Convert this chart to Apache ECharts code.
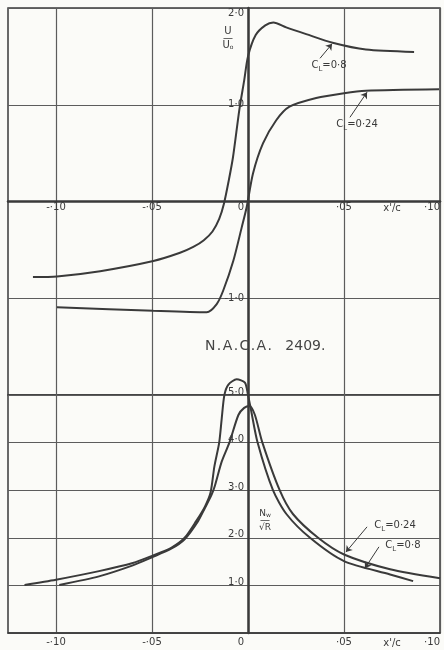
<!DOCTYPE html>
<html>
<head>
<meta charset="utf-8">
<title>N.A.C.A. 2409</title>
<script src="https://cdn.jsdelivr.net/npm/echarts@6/dist/echarts.min.js"></script>
<style>
  html, body { margin: 0; padding: 0; background: #fbfbf8; }
  #chart { width: 444px; height: 650px; }
</style>
</head>
<body>
<div id="chart"></div>
<script>
  // x'/c grid lines and their labels
  const xTicks = [-0.10, -0.05, 0, 0.05, 0.10];
  const xTickLabels = ['-·10', '-·05', '{z|0}', '·05', '·10'];

  // upper panel: U/U0
  const uTickLabels = { '2': '{t|2·0}', '1': '1·0', '-1': '-1·0' };
  const uCL08 = [
    [-0.112, -0.78], [-0.0995, -0.774], [-0.077, -0.72], [-0.0493, -0.615],
    [-0.0354, -0.53], [-0.0285, -0.47], [-0.023, -0.40], [-0.0185, -0.31],
    [-0.015, -0.18], [-0.0125, -0.02], [-0.010, 0.22], [-0.0078, 0.46],
    [-0.0045, 0.95], [-0.002, 1.25], [0, 1.5], [0.004, 1.72],
    [0.009, 1.82], [0.0132, 1.85], [0.0199, 1.80], [0.0303, 1.73],
    [0.0441, 1.64], [0.0614, 1.57], [0.0865, 1.545]
  ];
  const uCL024 = [
    [-0.0995, -1.094], [-0.0493, -1.13], [-0.0215, -1.145], [-0.0163, -1.06],
    [-0.0129, -0.92], [-0.0076, -0.61], [-0.0033, -0.27], [-0.0007, -0.06],
    [0.0026, 0.29], [0.0078, 0.60], [0.0147, 0.84], [0.0216, 0.98],
    [0.0355, 1.07], [0.05, 1.12], [0.0614, 1.145], [0.0995, 1.16]
  ];

  // lower panel: Nw/sqrt(R)
  const nTickLabels = { '1': '1·0', '2': '2·0', '3': '3·0', '4': '4·0', '5': '5·0' };
  const nCL08 = [
    [-0.1164, 1.01], [-0.10, 1.12], [-0.0776, 1.30], [-0.06, 1.47],
    [-0.05, 1.62], [-0.04, 1.79], [-0.033, 2.0], [-0.027, 2.35],
    [-0.0225, 2.65], [-0.0195, 2.95], [-0.0175, 3.5], [-0.015, 4.0],
    [-0.0137, 4.5], [-0.0123, 5.0], [-0.0102, 5.22], [-0.0059, 5.33],
    [-0.0016, 5.26], [0, 5.0], [0.0015, 4.7], [0.005, 4.0],
    [0.013, 3.0], [0.020, 2.5], [0.0323, 2.0], [0.05, 1.51],
    [0.074, 1.23], [0.086, 1.09]
  ];
  const nCL024 = [
    [-0.0983, 1.01], [-0.0776, 1.19], [-0.06, 1.42], [-0.05, 1.59],
    [-0.04, 1.77], [-0.033, 1.97], [-0.026, 2.35], [-0.0225, 2.62],
    [-0.019, 2.9], [-0.0172, 3.1], [-0.0137, 3.6], [-0.0097, 4.0],
    [-0.005, 4.58], [-0.002, 4.73], [0.0008, 4.77], [0.0036, 4.58],
    [0.0075, 4.0], [0.0165, 3.0], [0.0234, 2.5], [0.0365, 2.0],
    [0.05, 1.65], [0.074, 1.34], [0.10, 1.15]
  ];

  const ink = '#3a3a3a';
  const gridInk = '#5c5c5c';
  const font = 'DejaVu Sans';

  const clRich = {
    c: { fontFamily: font, fontSize: 10, color: ink },
    l: { fontFamily: font, fontSize: 7, color: ink, padding: [7, 0, 0, 0] }
  };

  // axes are pushed from the frame edge onto the zero lines
  function xAxisFor(gridIndex, offset, margin) {
    return {
      type: 'value',
      gridIndex: gridIndex,
      position: 'bottom',
      offset: offset,
      min: -0.125,
      max: 0.10,
      axisLine: { onZero: false, lineStyle: { color: ink, width: gridIndex === 0 ? 2.5 : 1.5 } },
      axisTick: { show: false, customValues: xTicks },
      axisLabel: {
        customValues: xTicks,
        margin: margin,
        fontFamily: font,
        fontSize: 10,
        color: ink,
        alignMaxLabel: 'right',
        hideOverlap: false,
        rich: { z: { fontFamily: font, fontSize: 10, color: ink, padding: [0, 14, 0, 0] } },
        formatter: (v) => xTickLabels[xTicks.findIndex((t) => Math.abs(t - v) < 1e-9)] || ''
      },
      splitLine: { show: true, lineStyle: { color: gridInk, width: 1.2 } }
    };
  }

  function yAxisFor(gridIndex, min, max, labels, padBottom) {
    return {
      type: 'value',
      gridIndex: gridIndex,
      position: 'left',
      offset: -240,
      min: min,
      max: max,
      interval: 1,
      axisLine: { onZero: false, lineStyle: { color: ink, width: 2.5 } },
      axisTick: { show: false },
      axisLabel: {
        margin: 4,
        fontFamily: font,
        fontSize: 10,
        color: ink,
        padding: [0, 0, padBottom, 0],
        rich: { t: { fontFamily: font, fontSize: 10, color: ink, padding: [10, 0, 0, 0] } },
        formatter: (v) => labels[String(v)] || ''
      },
      splitLine: { show: true, lineStyle: { color: gridInk, width: 1.2 } }
    };
  }

  function arrow(from, to) {
    return [{ coord: from }, { coord: to }];
  }

  function note(coord, text, rich, offset) {
    return {
      coord: coord,
      symbol: 'circle',
      symbolSize: 0,
      label: {
        show: true,
        position: 'inside',
        offset: offset || [0, 0],
        formatter: text,
        rich: rich,
        fontFamily: font,
        fontSize: 10,
        color: ink
      }
    };
  }

  function leader(from, to) {
    return {
      silent: true,
      symbol: ['none', 'arrow'],
      symbolSize: 6,
      label: { show: false },
      lineStyle: { color: ink, width: 1, type: 'solid' },
      data: [arrow(from, to)]
    };
  }

  const chart = echarts.init(document.getElementById('chart'));
  const option = {
    backgroundColor: '#fbfbf8',
    animation: false,
    title: {
      text: 'N\u200A.\u200AA\u200A.\u200AC\u200A.\u200AA\u200A.   2409.',
      left: 200,
      top: 334,
      textStyle: { fontFamily: font, fontSize: 14, fontWeight: 'normal', color: '#444' }
    },
    grid: [
      { left: 8, top: 8, width: 432, height: 387, outerBoundsMode: 'none', show: true, borderColor: ink, borderWidth: 1.5 },
      { left: 8, top: 395, width: 432, height: 238, outerBoundsMode: 'none', show: true, borderColor: ink, borderWidth: 1.5 }
    ],
    xAxis: [xAxisFor(0, -193.5, 1), xAxisFor(1, 0, 4)],
    yAxis: [
      yAxisFor(0, -2, 2, uTickLabels, 0),
      yAxisFor(1, 0, 5, nTickLabels, 6)
    ],
    series: [
      {
        name: 'U/U0 CL=0.8',
        type: 'line',
        xAxisIndex: 0,
        yAxisIndex: 0,
        data: uCL08,
        smooth: 0.25,
        showSymbol: false,
        lineStyle: { color: ink, width: 2 },
        markLine: leader([0.0375, 1.48], [0.0438, 1.63]),
        markPoint: {
          silent: true,
          data: [
            note([0.0422, 1.406], '{c|C}{l|L}{c|=0·8}', clRich),
            note([-0.0104, 1.685], '{u|U}\n{b|—}\n{u|U}{s|o}', {
              u: { fontFamily: font, fontSize: 10, color: ink, lineHeight: 10 },
              b: { fontFamily: font, fontSize: 10, color: ink, lineHeight: 4 },
              s: { fontFamily: font, fontSize: 6, color: ink, lineHeight: 10, padding: [4, 0, 0, 0] }
            }),
            note([0.075, 0], "x'/c", null, [0, 7])
          ]
        }
      },
      {
        name: 'U/U0 CL=0.24',
        type: 'line',
        xAxisIndex: 0,
        yAxisIndex: 0,
        data: uCL024,
        smooth: 0.25,
        showSymbol: false,
        lineStyle: { color: ink, width: 2 },
        markLine: leader([0.0531, 0.87], [0.062, 1.13]),
        markPoint: {
          silent: true,
          data: [note([0.0568, 0.796], '{c|C}{l|L}{c|=0·24}', clRich)]
        }
      },
      {
        name: 'N/sqrtR CL=0.8',
        type: 'line',
        xAxisIndex: 1,
        yAxisIndex: 1,
        data: nCL08,
        clip: false,
        smooth: 0.25,
        showSymbol: false,
        lineStyle: { color: ink, width: 2 },
        markLine: leader([0.0682, 1.81], [0.0609, 1.36]),
        markPoint: {
          silent: true,
          data: [
            note([0.0807, 1.83], '{c|C}{l|L}{c|=0·8}', clRich),
            note([0.0089, 2.37], '{u|N}{s|w}\n{b|—}\n{u|√R}', {
              u: { fontFamily: font, fontSize: 9, color: ink, lineHeight: 10 },
              b: { fontFamily: font, fontSize: 10, color: ink, lineHeight: 4 },
              s: { fontFamily: font, fontSize: 6, color: ink, lineHeight: 10, padding: [4, 0, 0, 0] }
            }),
            note([0.075, 0], "x'/c", null, [0, 10])
          ]
        }
      },
      {
        name: 'N/sqrtR CL=0.24',
        type: 'line',
        xAxisIndex: 1,
        yAxisIndex: 1,
        data: nCL024,
        smooth: 0.25,
        showSymbol: false,
        lineStyle: { color: ink, width: 2 },
        markLine: leader([0.062, 2.23], [0.051, 1.70]),
        markPoint: {
          silent: true,
          data: [note([0.0766, 2.25], '{c|C}{l|L}{c|=0·24}', clRich)]
        }
      }
    ]
  };
  chart.setOption(option);
</script>
</body>
</html>
